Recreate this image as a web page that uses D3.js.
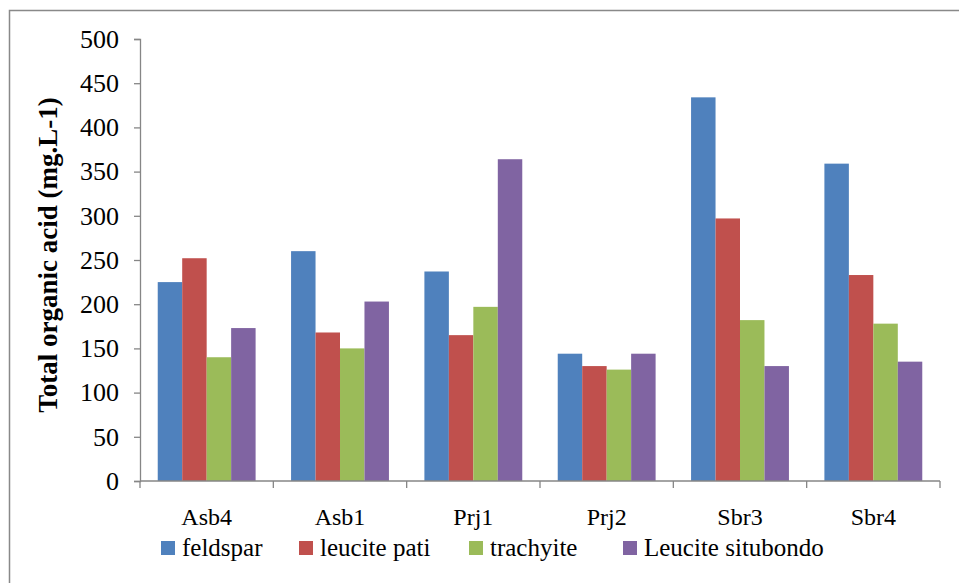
<!DOCTYPE html>
<html><head><meta charset="utf-8">
<script src="https://cdn.jsdelivr.net/npm/d3@7"></script>
<style>body{margin:0;background:#fff}svg{display:block}</style>
</head><body>
<script>
const categories = ["Asb4","Asb1","Prj1","Prj2","Sbr3","Sbr4"];
const seriesNames = ["feldspar","leucite pati","trachyite","Leucite situbondo"];
const feldspar = [225, 260, 237, 144, 434, 359];
const leucitePati = [252, 168, 165, 130, 297, 233];
const trachyite = [140, 150, 197, 126, 182, 178];
const leuciteSitubondo = [173, 203, 364, 144, 130, 135];
const yTicks = [0,50,100,150,200,250,300,350,400,450,500];
const colors = ["#4f81bd","#c0504d","#9bbb59","#8064a2"];
const seriesValues = [feldspar, leucitePati, trachyite, leuciteSitubondo];

(function(){
const W = 959, H = 583;
const svg = d3.select("body").append("svg").attr("width", W).attr("height", H);
const font = "'Liberation Serif','Times New Roman',serif";

// outer border (left & top visible)
svg.append("rect").attr("x", 9.5).attr("y", 10.5).attr("width", 980).attr("height", 600)
  .attr("fill", "none").attr("stroke", "#898989").attr("stroke-width", 1.5);

const mLeft = 140, mRight = 940, mTop = 39, mBottom = 481;
const x0 = d3.scaleBand().domain(categories).range([mLeft, mRight]).paddingInner(0.266).paddingOuter(0.133);
const x1 = d3.scaleBand().domain(seriesNames).range([0, x0.bandwidth()]);
const y = d3.scaleLinear().domain([0, 500]).range([mBottom, mTop]);

const groups = svg.append("g").selectAll("g").data(categories).join("g")
  .attr("transform", d => `translate(${x0(d)},0)`);
groups.selectAll("rect").data((c, i) => seriesNames.map((s, j) => ({s, j, v: seriesValues[j][i]})))
  .join("rect")
  .attr("x", d => x1(d.s)).attr("width", x1.bandwidth())
  .attr("y", d => y(d.v)).attr("height", d => y(0) - y(d.v))
  .attr("fill", d => colors[d.j]);

// y axis
const yAxis = svg.append("g").attr("transform", `translate(${mLeft},0)`)
  .call(d3.axisLeft(y).tickValues(yTicks).tickSize(6).tickPadding(15))
  .attr("font-family", font).attr("font-size", 26);
yAxis.select(".domain").attr("stroke", "#868686").attr("stroke-width", 1.3);
yAxis.selectAll(".tick line").attr("stroke", "#868686").attr("stroke-width", 1.3);
yAxis.selectAll("text").attr("font-family", font).attr("font-size", 26).attr("fill", "#000");

// x axis
const xb = d3.scaleLinear().domain([0, categories.length]).range([mLeft, mRight]);
const xAxisG = svg.append("g");
xAxisG.append("line").attr("x1", mLeft).attr("x2", mRight).attr("y1", mBottom).attr("y2", mBottom)
  .attr("stroke", "#868686").attr("stroke-width", 1.3);
xAxisG.selectAll("line.t").data(d3.range(categories.length + 1)).join("line").attr("class", "t")
  .attr("x1", d => xb(d)).attr("x2", d => xb(d)).attr("y1", mBottom).attr("y2", mBottom + 7)
  .attr("stroke", "#868686").attr("stroke-width", 1.3);
xAxisG.selectAll("text").data(categories).join("text")
  .attr("x", d => x0(d) + x0.bandwidth() / 2).attr("y", 525)
  .attr("text-anchor", "middle").attr("font-family", font).attr("font-size", 24).text(d => d);

// y title
svg.append("text").attr("transform", "translate(57,255) rotate(-90)")
  .attr("text-anchor", "middle").attr("font-family", font).attr("font-size", 27).attr("font-weight", "bold")
  .text("Total organic acid (mg.L-1)");

// legend
const legX = [161, 299, 469, 623];
const leg = svg.append("g").selectAll("g").data(seriesNames).join("g")
  .attr("transform", (d, i) => `translate(${legX[i]},548)`);
leg.append("rect").attr("x", 0).attr("y", -7).attr("width", 14).attr("height", 14).attr("fill", (d, i) => colors[i]);
leg.append("text").attr("x", 21).attr("y", 8).attr("font-family", font).attr("font-size", 25).text(d => d);
})();
</script>
</body></html>
